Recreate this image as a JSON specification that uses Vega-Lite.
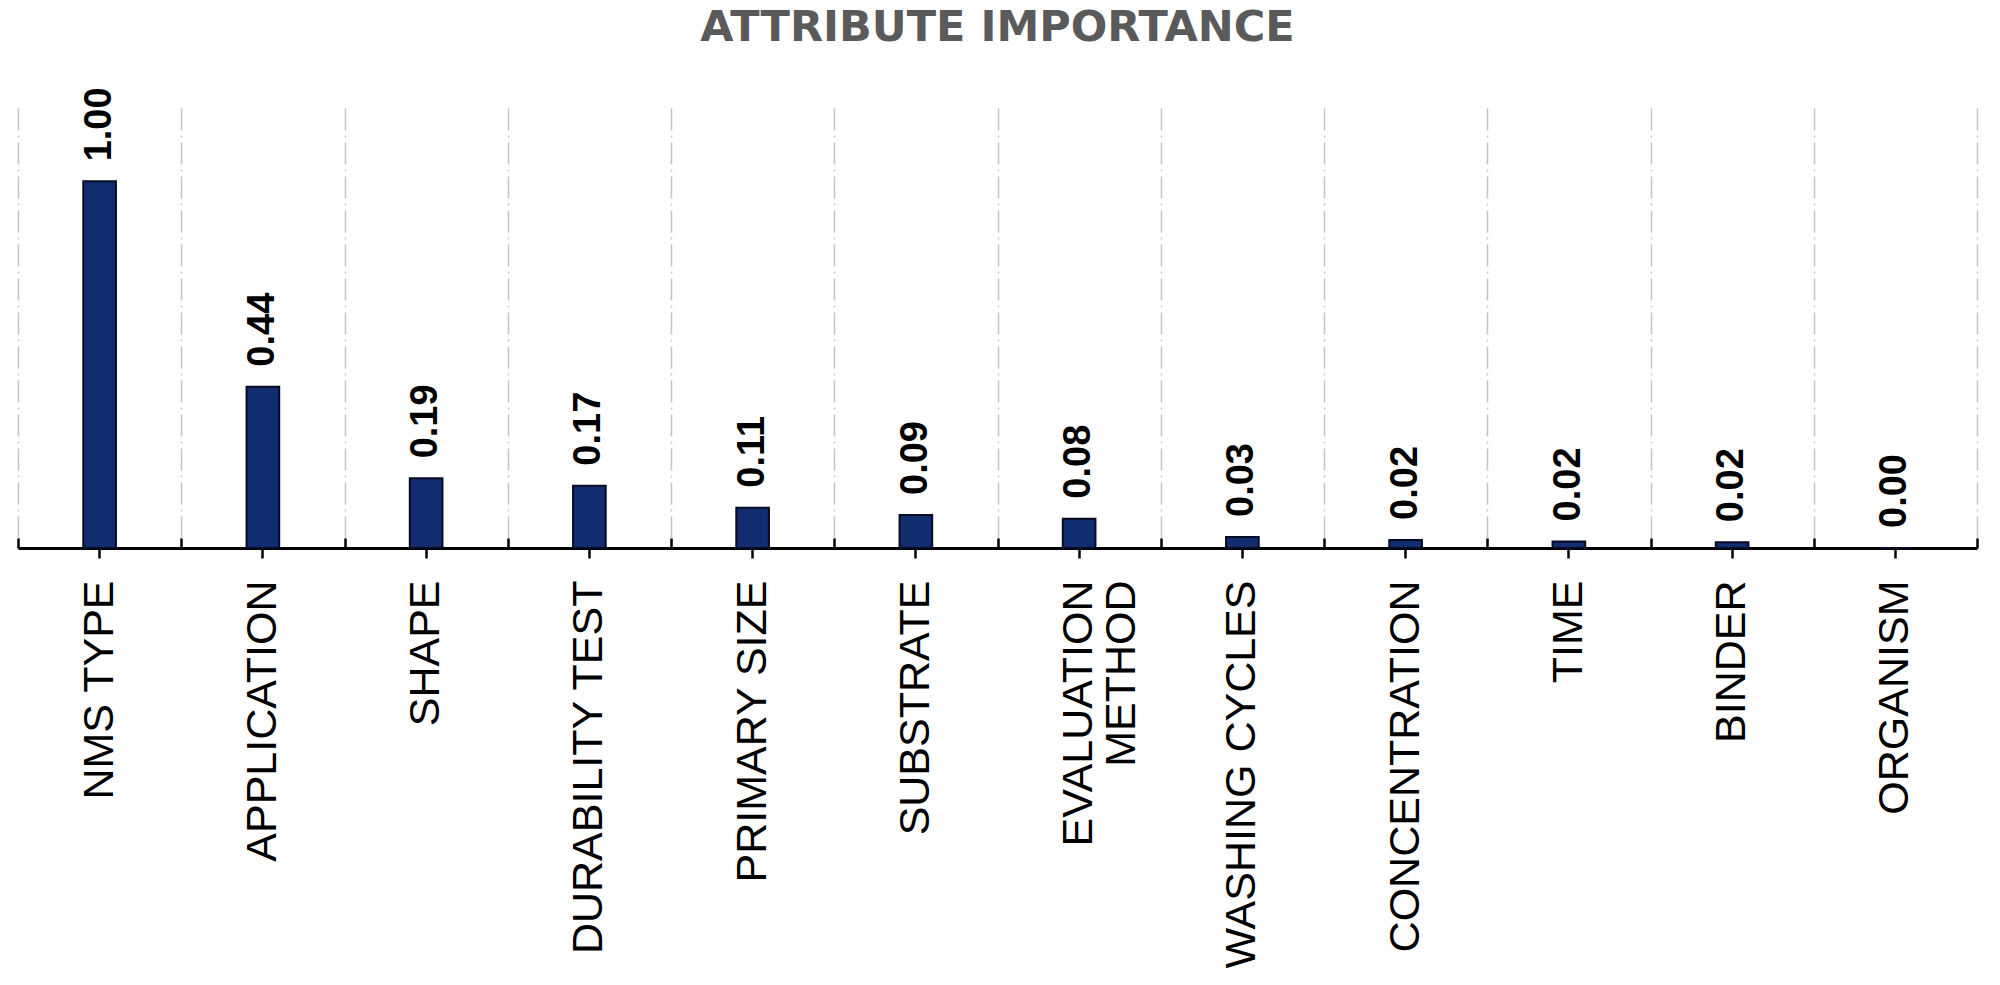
{
  "$schema": "https://vega.github.io/schema/vega-lite/v6.json",
  "width": 1959,
  "height": 440,
  "autosize": {"type": "none"},
  "padding": {"left": 18, "right": 23, "top": 108, "bottom": 437},
  "background": "white",
  "title": {
    "text": "ATTRIBUTE IMPORTANCE",
    "font": "DejaVu Sans",
    "fontSize": 43,
    "fontWeight": "bold",
    "color": "#5a5a5a",
    "anchor": "middle",
    "frame": "group",
    "baseline": "alphabetic",
    "offset": 3
  },
  "config": {
    "view": {"stroke": null},
    "scale": {"bandPaddingInner": 0, "bandPaddingOuter": 0}
  },
  "data": {
    "values": [
      {"attribute": "NMS TYPE", "importance": 1.00},
      {"attribute": "APPLICATION", "importance": 0.44},
      {"attribute": "SHAPE", "importance": 0.19},
      {"attribute": "DURABILITY TEST", "importance": 0.17},
      {"attribute": "PRIMARY SIZE", "importance": 0.11},
      {"attribute": "SUBSTRATE", "importance": 0.09},
      {"attribute": "EVALUATION METHOD", "importance": 0.08},
      {"attribute": "WASHING CYCLES", "importance": 0.03},
      {"attribute": "CONCENTRATION", "importance": 0.022},
      {"attribute": "TIME", "importance": 0.018},
      {"attribute": "BINDER", "importance": 0.016},
      {"attribute": "ORGANISM", "importance": 0.0}
    ]
  },
  "resolve": {"axis": {"x": "independent"}},
  "layer": [
    {
      "mark": {"type": "text", "angle": 270, "align": "left", "baseline": "middle", "dx": 20, "font": "Liberation Sans", "fontSize": 38, "fontWeight": "bold", "color": "#000000"},
      "encoding": {
        "x": {
          "field": "attribute", "type": "nominal", "sort": null,
          "scale": {"paddingInner": 0, "paddingOuter": 0},
          "axis": {
            "orient": "bottom",
            "title": null,
            "labels": false,
            "domain": false,
            "tickBand": "extent",
            "ticks": true,
            "tickSize": -10,
            "tickWidth": 2.5,
            "tickColor": "#000000",
            "grid": true,
            "gridColor": "#c4c4c4",
            "gridWidth": 1.5,
            "gridDash": [22, 5, 2, 5]
          }
        },
        "y": {
          "field": "importance", "type": "quantitative",
          "scale": {"domain": [0, 1.2], "nice": false, "zero": true},
          "axis": null
        },
        "text": {"field": "importance", "type": "quantitative", "format": ".2f"}
      }
    },
    {
      "mark": {"type": "bar", "width": {"band": 0.2}, "fill": "#112d70", "stroke": "#060b22", "strokeWidth": 2},
      "encoding": {
        "x": {
          "field": "attribute", "type": "nominal", "sort": null,
          "axis": {
            "orient": "bottom",
            "title": null,
            "grid": false,
            "domainColor": "#000000",
            "domainWidth": 3,
            "tickColor": "#000000",
            "tickWidth": 2.5,
            "tickSize": 10,
            "labelAngle": -90,
            "labelFont": "Liberation Sans",
            "labelFontSize": 43,
            "labelColor": "#000000",
            "labelPadding": 22,
            "labelLimit": 0,
            "labelLineHeight": 43,
            "labelExpr": "datum.value == 'EVALUATION METHOD' ? ['EVALUATION', 'METHOD'] : datum.value"
          }
        },
        "y": {"field": "importance", "type": "quantitative"}
      }
    }
  ]
}
